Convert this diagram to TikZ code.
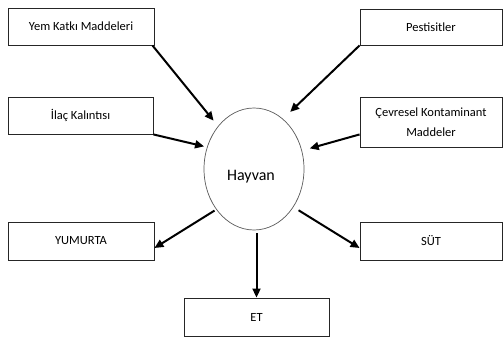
\documentclass[tikz,border=0pt]{standalone}
\usepackage{fontspec}
\setmainfont{Carlito}
\usetikzlibrary{arrows.meta,shapes.geometric}
\begin{document}
\begin{tikzpicture}[x=1pt,y=-1pt,
  box/.style={draw=black!85,line width=0.9pt,inner sep=0pt,font=\fontsize{12.5}{20}\selectfont,align=center},
  conn/.style={line width=2pt,-{Triangle[length=9pt,width=8pt]}},
]
\useasboundingbox (0,0) rectangle (503,337);
\node[box,minimum width=146pt,minimum height=37pt] (yem) at (81,26.5) {Yem Katkı Maddeleri};
\node[box,minimum width=145pt,minimum height=37pt] (ilac) at (80.5,115.5) {İlaç Kalıntısı};
\node[box,minimum width=142pt,minimum height=36pt] (pest) at (431,27) {Pestisitler};
\node[box,minimum width=142pt,minimum height=50pt] (cev) at (431,122) {Çevresel Kontaminant\\Maddeler};
\node[box,minimum width=146pt,minimum height=38pt] (yum) at (81,241) {YUMURTA};
\node[box,minimum width=142pt,minimum height=38pt] (sut) at (431,241) {SÜT};
\node[box,minimum width=145pt,minimum height=38pt] (et) at (256.5,317) {ET};
\node[draw=black!65,line width=0.7pt,ellipse,minimum width=100pt,minimum height=122pt,inner sep=0pt] (hay) at (254,169) {};
\node[font=\fontsize{16}{18}\selectfont] (hayt) at (251,177) {Hayvan};
\draw[conn,shorten >=7pt] ([xshift=-2pt]yem.south east) -- (hay.130);
\draw[conn,shorten >=3pt] (ilac.south east) -- (hay.155);
\draw[conn,shorten >=10pt] (pest.south west) -- (hay.60);
\draw[conn,shorten >=8pt] ([yshift=13pt]cev.south west) -- (hay.21);
\draw[conn,shorten <=2pt] (hay.227) -- ([yshift=-7pt]yum.east);
\draw[conn,shorten <=6pt] (hay.-44) -- ([yshift=-7pt]sut.west);
\draw[conn,shorten <=3pt] (hay.south -| et.north) -- (et.north);
\end{tikzpicture}
\end{document}
